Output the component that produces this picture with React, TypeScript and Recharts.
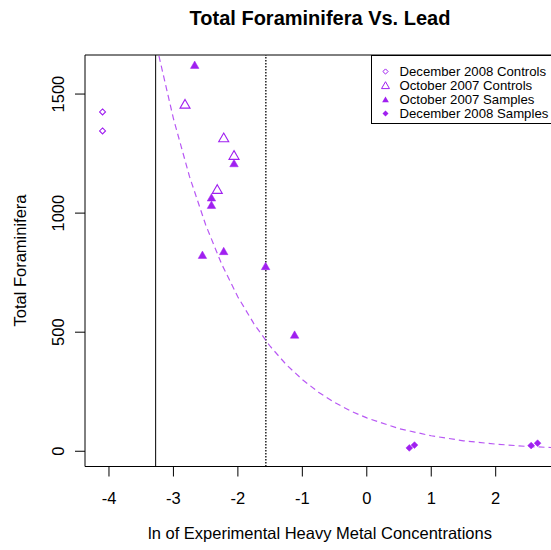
import React from 'react';
import { ScatterChart, Scatter, XAxis, YAxis, ReferenceLine, ReferenceArea } from 'recharts';

const PURPLE = '#A020F0';
const FONT = "'Liberation Sans', Arial, sans-serif";

// Series values
const dec2008ControlsX = [-4.1, -4.1];
const dec2008ControlsY = [1425, 1345];
const oct2007ControlsX = [-2.82, -2.22, -2.06, -2.32];
const oct2007ControlsY = [1453, 1312, 1238, 1095];
const oct2007SamplesX = [-2.67, -2.06, -2.41, -2.41, -2.55, -2.22, -1.57, -1.12];
const oct2007SamplesY = [1618, 1205, 1061, 1030, 820, 836, 773, 485];
const dec2008SamplesX = [0.66, 0.74, 2.55, 2.65];
const dec2008SamplesY = [14, 26, 24, 34];

// Dashed fitted curve
const fitX = [-3.225, -3.0, -2.75, -2.5, -2.25, -2.0, -1.75, -1.5, -1.25, -1.0, -0.75, -0.5, -0.25, 0, 0.5, 1.0, 1.5, 2.0, 2.5, 2.92];
const fitY = [1660, 1397, 1153, 951, 785, 648, 535, 441, 364, 301, 248, 205, 169, 140, 95, 65, 44, 30, 20, 15];

const xTicks = [-4, -3, -2, -1, 0, 1, 2];
const yTicks = [0, 500, 1000, 1500];
const xDomain: [number, number] = [-4.372, 2.92];
const yDomain: [number, number] = [-64, 1664];
const solidLineX = -3.276;
const dottedLineX = -1.566;

const legendNames = ['December 2008 Controls', 'October 2007 Controls', 'October 2007 Samples', 'December 2008 Samples'];

const zip = (xs: number[], ys: number[]) => xs.map((x, i) => ({ x, y: ys[i] }));
const dec2008Controls = zip(dec2008ControlsX, dec2008ControlsY);
const oct2007Controls = zip(oct2007ControlsX, oct2007ControlsY);
const oct2007Samples = zip(oct2007SamplesX, oct2007SamplesY);
const dec2008Samples = zip(dec2008SamplesX, dec2008SamplesY);
const fit = zip(fitX, fitY);

const diamondPts = (cx: number, cy: number, h: number) =>
  `${cx},${cy - h} ${cx + h},${cy} ${cx},${cy + h} ${cx - h},${cy}`;
const trianglePts = (cx: number, cy: number, r: number) =>
  `${cx},${cy - r} ${cx + 0.866 * r},${cy + 0.5 * r} ${cx - 0.866 * r},${cy + 0.5 * r}`;

const OpenDiamond = (p: any) => <polygon points={diamondPts(p.cx, p.cy, 3)} fill="none" stroke={PURPLE} strokeWidth={1.1} />;
const OpenTriangle = (p: any) => <polygon points={trianglePts(p.cx, p.cy, 5.8)} fill="none" stroke={PURPLE} strokeWidth={1.1} />;
const FilledTriangle = (p: any) => <polygon points={trianglePts(p.cx, p.cy, 4.9)} fill={PURPLE} stroke={PURPLE} strokeWidth={0.5} />;
const FilledDiamond = (p: any) => <polygon points={diamondPts(p.cx, p.cy, 3.4)} fill={PURPLE} stroke={PURPLE} strokeWidth={0.5} />;
const NoShape = () => <g />;

const YTick = (p: any) => (
  <text
    transform={`translate(64, ${p.y}) rotate(-90)`}
    textAnchor="middle"
    fill="#000"
    fontSize={16.5}
    fontFamily={FONT}
  >
    {p.payload.value}
  </text>
);

export default function App() {
  const legendRowY = [71.5, 85.5, 99.5, 113.5];
  const legendMarkers = [
    (cy: number) => <polygon points={diamondPts(385.5, cy, 2.6)} fill="none" stroke={PURPLE} strokeWidth={1} />,
    (cy: number) => <polygon points={trianglePts(385.5, cy + 0.8, 4.6)} fill="none" stroke={PURPLE} strokeWidth={1} />,
    (cy: number) => <polygon points={trianglePts(385.5, cy + 0.8, 3.9)} fill={PURPLE} />,
    (cy: number) => <polygon points={diamondPts(385.5, cy, 3)} fill={PURPLE} />,
  ];
  return (
    <div style={{ position: 'fixed', left: 0, top: 0, width: 551, height: 550, overflow: 'hidden', background: '#fff' }}>
      <div style={{ position: 'relative', width: 560, height: 550 }}>
        <ScatterChart width={560} height={550} margin={{ top: 55, right: 5, bottom: 53.5, left: 25 }}>
          <XAxis
            type="number"
            dataKey="x"
            domain={xDomain}
            ticks={xTicks}
            allowDataOverflow
            axisLine={false}
            tickLine={{ stroke: '#000' }}
            tickSize={10}
            tickMargin={15.5}
            height={30}
            tick={{ fill: '#000', fontSize: 16.5, fontFamily: FONT }}
          />
          <YAxis
            type="number"
            dataKey="y"
            domain={yDomain}
            ticks={yTicks}
            allowDataOverflow
            axisLine={false}
            tickLine={{ stroke: '#000' }}
            tickSize={10}
            width={60}
            tick={<YTick />}
          />
          <ReferenceArea x1={xDomain[0]} x2={xDomain[1]} y1={yDomain[0]} y2={yDomain[1]} fill="none" stroke="#000" strokeWidth={1} fillOpacity={0} />
          <ReferenceLine x={solidLineX} stroke="#000" strokeWidth={1} />
          <ReferenceLine x={dottedLineX} stroke="#000" strokeWidth={1.3} strokeDasharray="1.5 1.5" />
          <Scatter
            data={fit}
            line={{ stroke: PURPLE, strokeWidth: 1.2, strokeDasharray: '6 4', strokeOpacity: 0.75 }}
            lineType="joint"
            shape={<NoShape />}
            isAnimationActive={false}
          />
          <Scatter data={dec2008Controls} shape={<OpenDiamond />} isAnimationActive={false} />
          <Scatter data={oct2007Controls} shape={<OpenTriangle />} isAnimationActive={false} />
          <Scatter data={oct2007Samples} shape={<FilledTriangle />} isAnimationActive={false} />
          <Scatter data={dec2008Samples} shape={<FilledDiamond />} isAnimationActive={false} />
        </ScatterChart>
        <svg width={560} height={550} style={{ position: 'absolute', left: 0, top: 0, pointerEvents: 'none' }}>
          <text x={320} y={24.5} textAnchor="middle" fontSize={20} fontWeight="bold" fontFamily={FONT} fill="#000">
            Total Foraminifera Vs. Lead
          </text>
          <text x={320} y={539} textAnchor="middle" fontSize={16.5} fontFamily={FONT} fill="#000">
            ln of Experimental Heavy Metal Concentrations
          </text>
          <text transform="translate(26, 260.5) rotate(-90)" textAnchor="middle" fontSize={16.5} fontFamily={FONT} fill="#000">
            Total Foraminifera
          </text>
          <rect x={371.5} y={55.5} width={200} height={68} fill="#fff" stroke="#000" strokeWidth={1} />
          {legendNames.map((name, i) => (
            <g key={name}>
              {legendMarkers[i](legendRowY[i])}
              <text x={399.5} y={legendRowY[i] + 4.7} fontSize={13.2} fontFamily={FONT} fill="#000">
                {name}
              </text>
            </g>
          ))}
        </svg>
      </div>
    </div>
  );
}
